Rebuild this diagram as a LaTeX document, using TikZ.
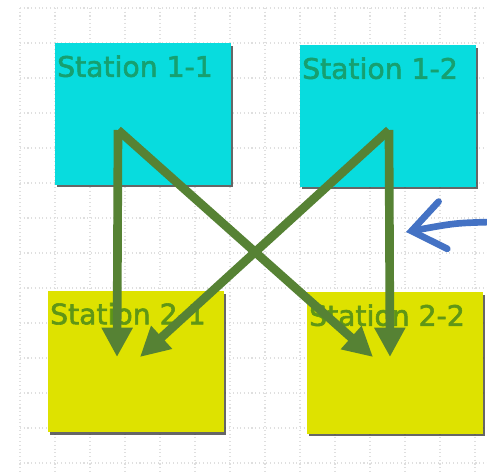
\documentclass[tikz,border=0pt]{standalone}
\usepackage{fontspec}
\setmainfont{DejaVu Sans}
\newfontfamily\stationfont[FakeBold=2]{DejaVu Sans}
\usepackage{tikz}
\usetikzlibrary{positioning}
\usetikzlibrary{arrows.meta,shadows}

\definecolor{stcyan}{RGB}{8,220,222}
\definecolor{styellow}{RGB}{222,226,0}
\definecolor{txtcyan}{RGB}{22,160,112}
\definecolor{txtyellow}{RGB}{95,150,22}
\definecolor{flowgreen}{RGB}{86,130,52}
\definecolor{pointblue}{RGB}{68,114,196}

\begin{document}
\begin{tikzpicture}[x=0.75pt,y=-0.75pt,
    station/.style={rectangle,minimum width=132pt,minimum height=106pt,inner sep=0pt,
        drop shadow={shadow xshift=2pt,shadow yshift=-2pt,fill=black!80,opacity=.75}},
    flow/.style={draw=flowgreen,line width=6.5pt,-{Triangle[length=22pt,width=22pt]}}]

\useasboundingbox[fill=white] (0,0) rectangle (487,472);

% dotted grid in the background
\foreach \gx in {20,55,...,487} {
    \draw[gray!25,dotted,line width=0.8pt] (\gx,8) -- (\gx,472);
}
\foreach \gy in {8,43,...,472} {
    \draw[gray!25,dotted,line width=0.8pt] (20,\gy) -- (487,\gy);
}

\foreach \name/\x/\y/\fillc/\txtc/\txt in {s11/142.5/114/stcyan/txtcyan/Station 1-1, s12/387.5/116/stcyan/txtcyan/Station 1-2, s21/135.5/361.5/styellow/txtyellow/Station 2-1, s22/394.5/363/styellow/txtyellow/Station 2-2} {
    \node[station,fill=\fillc,
        label={[anchor=north west,inner xsep=2pt,inner ysep=0pt,yshift=-9pt,text=\txtc,font=\stationfont\fontsize{21.2}{25}\selectfont]north west:\txt}]
        (\name) at (\x,\y) {};
}

\coordinate (s11out) at (118,130);
\coordinate (s12out) at (389,130);
\coordinate (s21in) at (117,357);
\coordinate (s21diag) at (140,357);
\coordinate (s22diag) at (373,357);
\coordinate (s22in) at (390,357);

\draw[flow] (s11out) -- (s21in);
\draw[flow] (s11out) -- (s22diag);
\draw[flow] (s12out) -- (s21diag);
\draw[flow] (s12out) -- (s22in);

% pointer coming in from the right
\coordinate (pointfrom) at (492,222);
\coordinate (pointto) at (406,232);
\draw[pointblue,line width=5pt,line cap=round,
    -{Straight Barb[length=24pt,width=36pt,line cap=round]}]
    (pointfrom) .. controls (455,223) .. (pointto);
\end{tikzpicture}
\end{document}
